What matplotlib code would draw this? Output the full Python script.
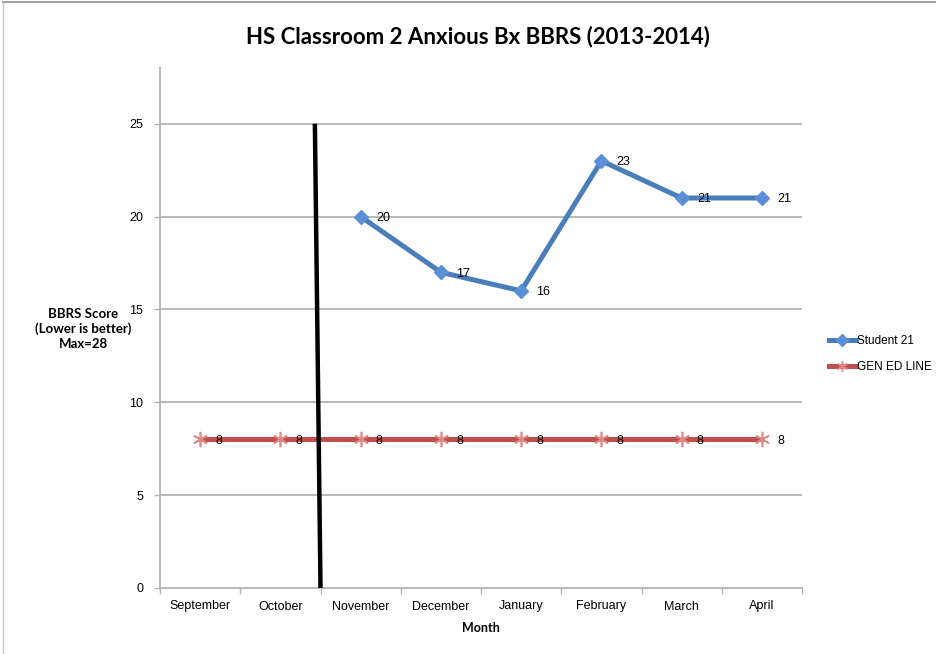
import numpy as np
import matplotlib.pyplot as plt
from matplotlib.lines import Line2D

# data
months = ["September", "October", "November", "December", "January",
          "February", "March", "April"]
student_months = ["November", "December", "January", "February", "March", "April"]
student_scores = [20, 17, 16, 23, 21, 21]
gen_ed_scores = [8, 8, 8, 8, 8, 8, 8, 8]
yticks = [0, 5, 10, 15, 20, 25]
# hand-drawn divider between October and November (x in category units)
divider_x = [1.43, 1.5]
divider_y = [25, 0]

blue = "#4a7ebb"
blue_mk = "#5b8fd8"
red = "#c0504d"
red_mk = "#e08a88"
grid_c = "#b3b3b3"
calibri = ["Lato", "DejaVu Sans"]
tick_font = ["Liberation Sans", "DejaVu Sans"]

fig = plt.figure(figsize=(9.36, 6.54), dpi=100)
ax = fig.add_axes([160 / 936, 1 - 588 / 654, 642 / 936, 520 / 654])

xs = np.arange(len(months))
xs_student = [months.index(m) for m in student_months]

ax.set_xlim(-0.5, len(months) - 0.5)
ax.set_ylim(0, 28)

for y in yticks[1:]:
    ax.axhline(y, color=grid_c, lw=1.3, zorder=0)

ax.plot(xs, gen_ed_scores, color=red, lw=3.6, marker=(6, 2, 0),
        markersize=11, markeredgecolor=red_mk, markeredgewidth=1.2,
        zorder=3, label="GEN ED LINE")
ax.plot(xs_student, student_scores, color=blue, lw=3.6, marker="D",
        markersize=7, markerfacecolor=blue_mk, markeredgecolor=blue_mk,
        zorder=4, label="Student 21")

ax.plot(divider_x, divider_y, color="black", lw=3.2, zorder=5,
        solid_capstyle="butt")

for x, v in zip(xs_student, student_scores):
    ax.annotate(str(v), (x, v), xytext=(11, -1), textcoords="offset points",
                ha="left", va="center", fontsize=9, family=tick_font, zorder=6)
for x, v in zip(xs, gen_ed_scores):
    ax.annotate(str(v), (x, v), xytext=(11, -1), textcoords="offset points",
                ha="left", va="center", fontsize=9, family=tick_font, zorder=6)

for s in ["top", "right"]:
    ax.spines[s].set_visible(False)
for s in ["left", "bottom"]:
    ax.spines[s].set_color(grid_c)
    ax.spines[s].set_linewidth(1.3)

ax.set_xticks(xs)
ax.set_xticklabels(months, fontsize=9, family=tick_font)
ax.set_xticks(np.arange(-0.5, len(months)), minor=True)
ax.tick_params(axis="x", which="major", length=0, pad=9)
ax.tick_params(axis="x", which="minor", length=4, color=grid_c, width=1)
ax.set_yticks(yticks)
ax.set_yticklabels([str(t) for t in yticks], fontsize=9, family=tick_font)
ax.tick_params(axis="y", length=4, color=grid_c, width=1, pad=8)

ax.set_xlabel("Month", fontsize=9, fontweight="bold", family=calibri, labelpad=7)
fig.text(83 / 936, 1 - 329 / 654, "BBRS Score\n(Lower is better)\nMax=28",
         ha="center", va="center", fontsize=9.5, fontweight="bold",
         family=calibri, linespacing=1.3)

fig.suptitle("HS Classroom 2 Anxious Bx BBRS (2013-2014)", x=478 / 936,
             y=1 - 37 / 654, va="center", fontsize=16, fontweight="bold",
             family=calibri)

handles = [
    Line2D([], [], color=blue, lw=3.6, marker="D", markersize=6,
           markerfacecolor=blue_mk, markeredgecolor=blue_mk),
    Line2D([], [], color=red, lw=3.6, marker=(6, 2, 0), markersize=8,
           markeredgecolor=red_mk),
]
fig.legend(handles, ["Student 21", "GEN ED LINE"], loc="center left",
           bbox_to_anchor=(818 / 936, 1 - 354 / 654), frameon=False,
           prop={"family": tick_font, "size": 8.5}, handlelength=2.3,
           handletextpad=0.1, labelspacing=1.2)

# page border lines (top and left)
fig.add_artist(Line2D([3 / 936, 1], [1 - 2 / 654, 1 - 2 / 654],
                      color="#a0a0a0", lw=1.5, transform=fig.transFigure))
fig.add_artist(Line2D([3 / 936, 3 / 936], [0, 1 - 2 / 654],
                      color="#c8c8c8", lw=1.0, transform=fig.transFigure))

fig.savefig("out.png", dpi=100)
